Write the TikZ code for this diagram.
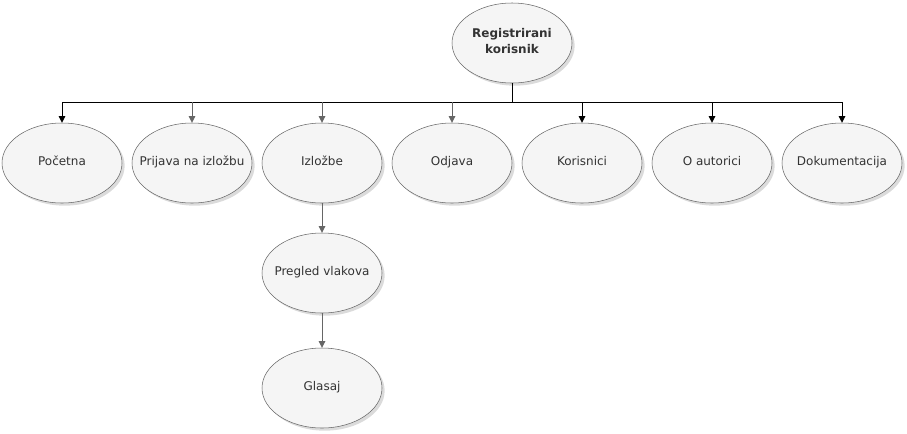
\documentclass[tikz,border=0pt]{standalone}
\usepackage{fontspec}
\setmainfont{DejaVu Sans}
\usetikzlibrary{shapes.geometric,arrows.meta,shadows}
\definecolor{nodefill}{HTML}{F5F5F5}
\definecolor{nodeline}{HTML}{666666}
\definecolor{nodetext}{HTML}{333333}
\newcommand{\fixtxt}[1]{\makebox[0pt][c]{\begin{tabular}{@{}c@{}}#1\end{tabular}}}
\tikzset{
  ell/.style={ellipse, draw=nodeline, fill=nodefill, minimum width=90pt, minimum height=60pt, inner sep=0pt,
    text=nodetext, font=\fontsize{9pt}{11pt}\selectfont,
    drop shadow={shadow xshift=2pt, shadow yshift=-2pt, fill=black!40, opacity=0.35}},
  blk/.style={draw=black, line width=0.75pt, -{Triangle[length=5pt,width=5pt]}},
  gry/.style={draw=nodeline, line width=0.75pt, -{Triangle[length=5pt,width=5pt]}},
}
\begin{document}
\begin{tikzpicture}[x=0.75pt,y=-0.75pt]
\useasboundingbox (0,0) rectangle (907,433);
\node[ell, font=\bfseries\fontsize{9pt}{11pt}\selectfont] (root) at (512,43) {\fixtxt{Registrirani\\[1pt]korisnik}};
\node[ell] (pocetna) at (62,163) {\fixtxt{Početna}};
\node[ell] (prijava) at (192,163) {\fixtxt{Prijava na izložbu}};
\node[ell] (izlozbe) at (322,163) {\fixtxt{Izložbe}};
\node[ell] (odjava) at (452,163) {\fixtxt{Odjava}};
\node[ell] (korisnici) at (582,163) {\fixtxt{Korisnici}};
\node[ell] (autorici) at (712,163) {\fixtxt{O autorici}};
\node[ell] (dok) at (842,163) {\fixtxt{Dokumentacija}};
\node[ell] (pregled) at (322,273) {\fixtxt{Pregled vlakova}};
\node[ell] (glasaj) at (322,388) {\fixtxt{Glasaj}};
\coordinate (bus) at (512,102);
\draw[line width=0.75pt] (root.south) -- (bus);
\draw[line width=0.75pt] (bus -| pocetna) -- (bus -| dok);
\draw[blk] (bus -| pocetna) -- (pocetna.north);
\draw[gry] (bus -| prijava) -- (prijava.north);
\draw[gry] (bus -| izlozbe) -- (izlozbe.north);
\draw[gry] (bus -| odjava) -- (odjava.north);
\draw[blk] (bus -| korisnici) -- (korisnici.north);
\draw[blk] (bus -| autorici) -- (autorici.north);
\draw[blk] (bus -| dok) -- (dok.north);
\draw[gry] (izlozbe.south) -- (pregled.north);
\draw[gry] (pregled.south) -- (glasaj.north);
\end{tikzpicture}
\end{document}
